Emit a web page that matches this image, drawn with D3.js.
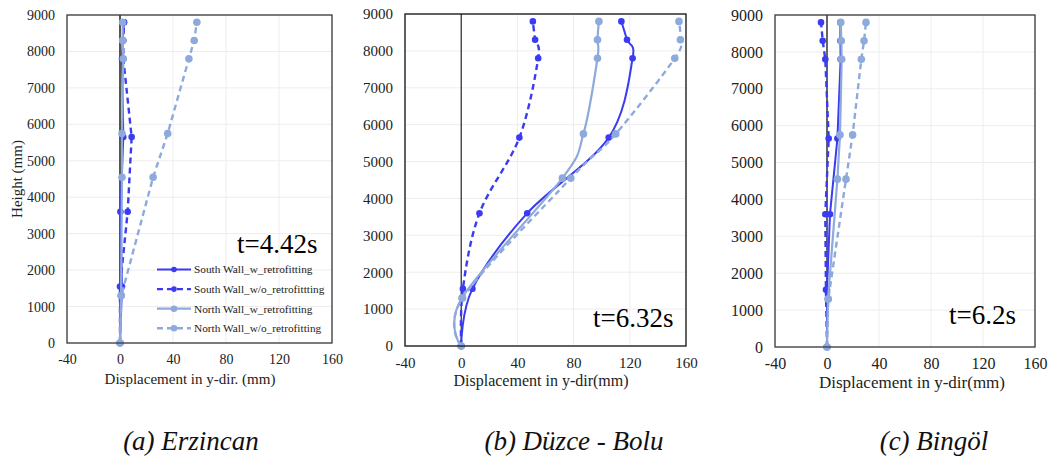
<!DOCTYPE html>
<html>
<head>
<meta charset="utf-8">
<script src="https://cdn.jsdelivr.net/npm/d3@7"></script>
<style>
  body { margin: 0; background: #fff; }
  svg { display: block; }
  svg text { font-family: "Liberation Serif", "Tinos", "Times New Roman", serif; }
</style>
</head>
<body>
<svg id="chart" width="1052" height="458"></svg>
<script>
// Storey heights of the measured points (mm)
const heightsSouth = [0, 1550, 3600, 5650, 7800, 8300, 8800];
const heightsNorth = [0, 1300, 4550, 5750, 7800, 8300, 8800];

// Axis ticks
const xTicks = [-40, 0, 40, 80, 120, 160];
const yTicks = [0, 1000, 2000, 3000, 4000, 5000, 6000, 7000, 8000, 9000];

// Series names
const seriesNames = [
  "South Wall_w_retrofitting",
  "South Wall_w/o_retrofittting",
  "North Wall_w_retrofitting",
  "North Wall_w/o_retrofitting"
];

// Erzincan, t = 4.42 s (displacement in mm)
const erzSouthW  = [0, 1.5, 0.3, 2.5, 1.5, 2, 3];
const erzSouthWo = [0, 0, 5.8, 8.8, 2.5, 2.5, 3];
const erzNorthW  = [0, 0.8, 1.5, 1.5, 2.5, 2, 2];
const erzNorthWo = [0, 1, 25, 36, 52, 56, 58];

// Düzce - Bolu, t = 6.32 s
const duzSouthW  = [0, 8, 47, 105, 122, 118, 114];
const duzSouthWo = [0, 1.2, 13, 41.4, 54.8, 52.6, 51];
const duzNorthW  = [0, 0.5, 72, 87, 97, 97, 98];
const duzNorthWo = [0, 1, 78, 110, 152, 156, 155];

// Bingöl, t = 6.2 s
const binSouthW  = [0, 0, 2.3, 8, 10.5, 10.3, 10.3];
const binSouthWo = [0, -0.8, -1.3, 1.3, -1.3, -3.3, -4.6];
const binNorthW  = [0, 0.8, 8, 10, 11.3, 11, 10.6];
const binNorthWo = [0, 1, 14.6, 19.7, 26.4, 28.5, 30];

const panels = [
  { box: [67, 332, 15, 343], south: [erzSouthW, erzSouthWo], north: [erzNorthW, erzNorthWo],
    smooth: false, time: "t=4.42s", timePos: [237, 253], tickSize: 14, titleSize: 15,
    xTitle: "Displacement in y-dir. (mm)", xTitleX: 190, xTitleY: 384, yTitle: "Height (mm)",
    caption: "(a) Erzincan", captionX: 191, legend: true, frame: "#3a3a3a", zero: "#555", zeroW: 2 },
  { box: [405, 686, 14, 346], south: [duzSouthW, duzSouthWo], north: [duzNorthW, duzNorthWo],
    smooth: true, time: "t=6.32s", timePos: [593, 327], tickSize: 15, titleSize: 16,
    xTitle: "Displacement in y-dir(mm)", xTitleX: 541, xTitleY: 386,
    caption: "(b) Düzce - Bolu", captionX: 574, legend: false, frame: "#111", zero: "#000", zeroW: 1 },
  { box: [775, 1035, 15, 347], south: [binSouthW, binSouthWo], north: [binNorthW, binNorthWo],
    smooth: false, time: "t=6.2s", timePos: [949, 324], tickSize: 16, titleSize: 17,
    xTitle: "Displacement in y-dir(mm)", xTitleX: 912, xTitleY: 388,
    caption: "(c) Bingöl", captionX: 934, legend: false, frame: "#3a3a3a", zero: "#666", zeroW: 2 }
];

const darkBlue = "#3b3bf2";
const lightBlue = "#8eaadc";
const styles = [
  { color: darkBlue, dash: null, width: 2, r: 3.3 },
  { color: darkBlue, dash: "6,4", width: 2.4, r: 3.3 },
  { color: lightBlue, dash: null, width: 2.2, r: 3.8 },
  { color: lightBlue, dash: "6,4", width: 2.4, r: 3.8 }
];

const svg = d3.select("#chart");

panels.forEach(p => {
  const [x0, x1, y0, y1] = p.box;
  const x = d3.scaleLinear().domain([-40, 160]).range([x0, x1]);
  const y = d3.scaleLinear().domain([0, 9000]).range([y1, y0]);
  const g = svg.append("g");

  // grid
  g.append("g").selectAll("line").data(xTicks).join("line")
    .attr("x1", d => x(d)).attr("x2", d => x(d)).attr("y1", y0).attr("y2", y1)
    .attr("stroke", "#ededed").attr("stroke-width", 1);
  g.append("g").selectAll("line").data(yTicks).join("line")
    .attr("x1", x0).attr("x2", x1).attr("y1", d => y(d)).attr("y2", d => y(d))
    .attr("stroke", "#ededed").attr("stroke-width", 1);

  // axes (labels only)
  const xAxis = g.append("g").attr("transform", `translate(0,${y1})`)
    .call(d3.axisBottom(x).tickValues(xTicks).tickSize(0).tickPadding(11).tickFormat(d => String(d)));
  const yAxis = g.append("g").attr("transform", `translate(${x0},0)`)
    .call(d3.axisLeft(y).tickValues(yTicks).tickSize(0).tickPadding(12).tickFormat(d => String(d)));
  [xAxis, yAxis].forEach(a => {
    a.attr("font-family", null).attr("font-size", null);
    a.select(".domain").remove();
    a.selectAll("text").attr("font-size", p.tickSize).attr("fill", "#222");
  });

  // zero line
  g.append("line").attr("x1", x(0)).attr("x2", x(0)).attr("y1", y0).attr("y2", y1)
    .attr("stroke", p.zero).attr("stroke-width", p.zeroW);

  // series
  const sets = [
    { xs: p.south[0], hs: heightsSouth, s: styles[0] },
    { xs: p.south[1], hs: heightsSouth, s: styles[1] },
    { xs: p.north[0], hs: heightsNorth, s: styles[2] },
    { xs: p.north[1], hs: heightsNorth, s: styles[3] }
  ];
  const line = d3.line().x(d => x(d[0])).y(d => y(d[1]))
    .curve(p.smooth ? d3.curveCardinal.tension(0) : d3.curveLinear);
  sets.forEach(set => {
    const pts = set.xs.map((v, i) => [v, set.hs[i]]);
    g.append("path").datum(pts).attr("d", line)
      .attr("fill", "none").attr("stroke", set.s.color)
      .attr("stroke-width", set.s.width)
      .attr("stroke-dasharray", set.s.dash)
      .attr("stroke-linejoin", "round");
    g.append("g").selectAll("circle").data(pts).join("circle")
      .attr("cx", d => x(d[0])).attr("cy", d => y(d[1])).attr("r", set.s.r)
      .attr("fill", set.s.color);
  });

  // plot frame
  g.append("rect").attr("x", x0).attr("y", y0).attr("width", x1 - x0).attr("height", y1 - y0)
    .attr("fill", "none").attr("stroke", p.frame).attr("stroke-width", 1.3);

  // time stamp
  g.append("text").attr("x", p.timePos[0]).attr("y", p.timePos[1])
    .attr("font-size", 27).attr("fill", "#000").text(p.time);

  // axis titles
  g.append("text").attr("x", p.xTitleX).attr("y", p.xTitleY)
    .attr("text-anchor", "middle").attr("font-size", p.titleSize).attr("fill", "#222").text(p.xTitle);
  if (p.yTitle) {
    g.append("text").attr("transform", `translate(22,${(y0 + y1) / 2}) rotate(-90)`)
      .attr("text-anchor", "middle").attr("font-size", 15).attr("fill", "#222").text(p.yTitle);
  }

  // caption
  g.append("text").attr("x", p.captionX).attr("y", 450)
    .attr("text-anchor", "middle").attr("font-size", 27).attr("font-style", "italic")
    .attr("fill", "#111").text(p.caption);

  // legend
  if (p.legend) {
    const lg = g.append("g");
    seriesNames.forEach((name, i) => {
      const s = styles[i];
      const ly = 269.5 + i * 19.6;
      lg.append("line").attr("x1", 157).attr("x2", 191).attr("y1", ly).attr("y2", ly)
        .attr("stroke", s.color).attr("stroke-width", s.width).attr("stroke-dasharray", s.dash);
      lg.append("circle").attr("cx", 174).attr("cy", ly).attr("r", s.r - 0.5).attr("fill", s.color);
      lg.append("text").attr("x", 194).attr("y", ly + 3.8).attr("font-size", 11.3)
        .attr("fill", "#222").text(name);
    });
  }
});
</script>
</body>
</html>
